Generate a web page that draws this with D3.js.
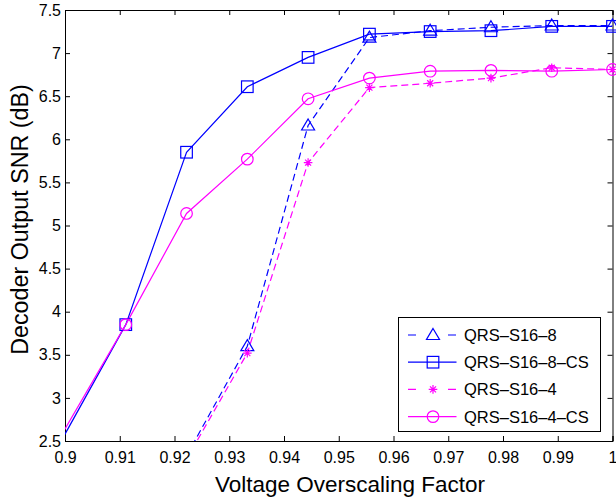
<!DOCTYPE html>
<html>
<head>
<meta charset="utf-8">
<script src="https://cdn.jsdelivr.net/npm/d3@7"></script>
<style>
  body { margin: 0; background: #fff; }
  text { font-family: "Liberation Sans", Arial, sans-serif; fill: #000; }
</style>
</head>
<body>
<div id="chart"></div>
<script>
var width = 616;
var height = 499;

// data (first point lies left of the visible x range)
var xs = [0.8889, 0.9, 0.9111, 0.9222, 0.9333, 0.9444, 0.9556, 0.9667, 0.9778, 0.9889, 1.0];
var s8 = [null, null, null, 2.33, 3.6, 6.16, 7.18, 7.26, 7.30, 7.32, 7.32];
var s8cs = [1.31, 2.58, 3.85, 5.85, 6.61, 6.95, 7.22, 7.25, 7.26, 7.31, 7.31];
var s4 = [null, null, null, 2.29, 3.52, 5.73, 6.60, 6.65, 6.71, 6.83, 6.81];
var s4cs = [1.43, 2.64, 3.85, 5.14, 5.77, 6.47, 6.71, 6.79, 6.80, 6.79, 6.81];
var xTicks = [0.9, 0.91, 0.92, 0.93, 0.94, 0.95, 0.96, 0.97, 0.98, 0.99, 1];
var yTicks = [2.5, 3, 3.5, 4, 4.5, 5, 5.5, 6, 6.5, 7, 7.5];

var series = [
  {name: "QRS\u2013S16\u20138", vals: s8, color: "#0000ff", dash: "7,4", marker: "tri"},
  {name: "QRS\u2013S16\u20138\u2013CS", vals: s8cs, color: "#0000ff", dash: null, marker: "sq"},
  {name: "QRS\u2013S16\u20134", vals: s4, color: "#ff00ff", dash: "7,4", marker: "star"},
  {name: "QRS\u2013S16\u20134\u2013CS", vals: s4cs, color: "#ff00ff", dash: null, marker: "circ"}
];

var m = {left: 65, right: 3.5, top: 10, bottom: 58};
var pw = width - m.left - m.right;
var ph = height - m.top - m.bottom;

var x = d3.scaleLinear().domain([0.9, 1]).range([0, pw]);
var y = d3.scaleLinear().domain([2.5, 7.5]).range([ph, 0]);

var svg = d3.select("#chart").append("svg")
    .attr("width", width)
    .attr("height", height);

svg.append("defs").append("clipPath").attr("id", "clip")
  .append("rect").attr("width", pw).attr("height", ph);

var g = svg.append("g").attr("transform", "translate(" + m.left + "," + m.top + ")");

// axes (inner ticks, box)
var fmt = function(d) { return d3.format("")(+d.toFixed(2)); };
g.append("g").attr("transform", "translate(0," + ph + ")")
    .call(d3.axisBottom(x).tickValues(xTicks).tickSize(-5).tickPadding(11).tickFormat(fmt));
g.append("g")
    .call(d3.axisLeft(y).tickValues(yTicks).tickSize(-5).tickPadding(4).tickFormat(fmt));
g.append("g").call(d3.axisTop(x).tickValues(xTicks).tickSize(-5).tickFormat(""));
g.append("g").attr("transform", "translate(" + pw + ",0)")
    .call(d3.axisRight(y).tickValues(yTicks).tickSize(-5).tickFormat(""));

g.selectAll(".domain").attr("stroke", "#000").attr("stroke-width", 1);
g.selectAll(".tick line").attr("stroke", "#000");
g.selectAll(".tick text").style("font-size", "16px").attr("fill", "#000");

// lines
var line = d3.line()
    .defined(function(d) { return d[1] != null; })
    .x(function(d) { return x(d[0]); })
    .y(function(d) { return y(d[1]); });

var plot = g.append("g").attr("clip-path", "url(#clip)");

function drawMarker(sel, type, color) {
  if (type == "tri") {
    sel.append("path").attr("d", "M0,-6.5L6.5,4.5L-6.5,4.5Z")
      .attr("fill", "none").attr("stroke", color).attr("stroke-width", 1.2);
  } else if (type == "sq") {
    sel.append("rect").attr("x", -5.8).attr("y", -5.8).attr("width", 11.6).attr("height", 11.6)
      .attr("fill", "none").attr("stroke", color).attr("stroke-width", 1.2);
  } else if (type == "circ") {
    sel.append("circle").attr("r", 5.8)
      .attr("fill", "none").attr("stroke", color).attr("stroke-width", 1.2);
  } else {
    sel.append("path").attr("d", "M-4.3,0H4.3M0,-4.3V4.3M-3,-3L3,3M-3,3L3,-3")
      .attr("fill", "none").attr("stroke", color).attr("stroke-width", 1.2);
  }
}

series.forEach(function(s) {
  var pts = xs.map(function(v, i) { return [v, s.vals[i]]; });
  plot.append("path").datum(pts)
    .attr("d", line)
    .attr("fill", "none")
    .attr("stroke", s.color)
    .attr("stroke-width", 1.2)
    .attr("stroke-dasharray", s.dash);
  pts.filter(function(d) { return d[1] != null && d[1] >= 2.5 && d[0] > 0.9; }).forEach(function(d) {
    var mk = g.append("g").attr("transform", "translate(" + x(d[0]) + "," + y(d[1]) + ")");
    drawMarker(mk, s.marker, s.color);
  });
});

// legend
var leg = svg.append("g").attr("transform", "translate(398.5,317.5)");
leg.append("rect").attr("width", 202).attr("height", 114)
  .attr("fill", "#fff").attr("stroke", "#000").attr("stroke-width", 1);
series.forEach(function(s, i) {
  var ly = 17.5 + i * 27.2;
  leg.append("line").attr("x1", 9.5).attr("x2", 58).attr("y1", ly).attr("y2", ly)
    .attr("stroke", s.color).attr("stroke-width", 1.2).attr("stroke-dasharray", s.dash ? "8,32" : null);
  var mk = leg.append("g").attr("transform", "translate(34.5," + ly + ")");
  drawMarker(mk, s.marker, s.color);
  leg.append("text").attr("x", 65.5).attr("y", ly + 6).style("font-size", "16.5px").text(s.name);
});

// axis titles
svg.append("text").attr("x", 350).attr("y", 492)
  .attr("text-anchor", "middle").style("font-size", "22.5px").text("Voltage Overscaling Factor");
svg.append("text").attr("transform", "translate(28,219.5) rotate(-90)")
  .attr("text-anchor", "middle").style("font-size", "23.3px").text("Decoder Output SNR (dB)");
</script>
</body>
</html>
